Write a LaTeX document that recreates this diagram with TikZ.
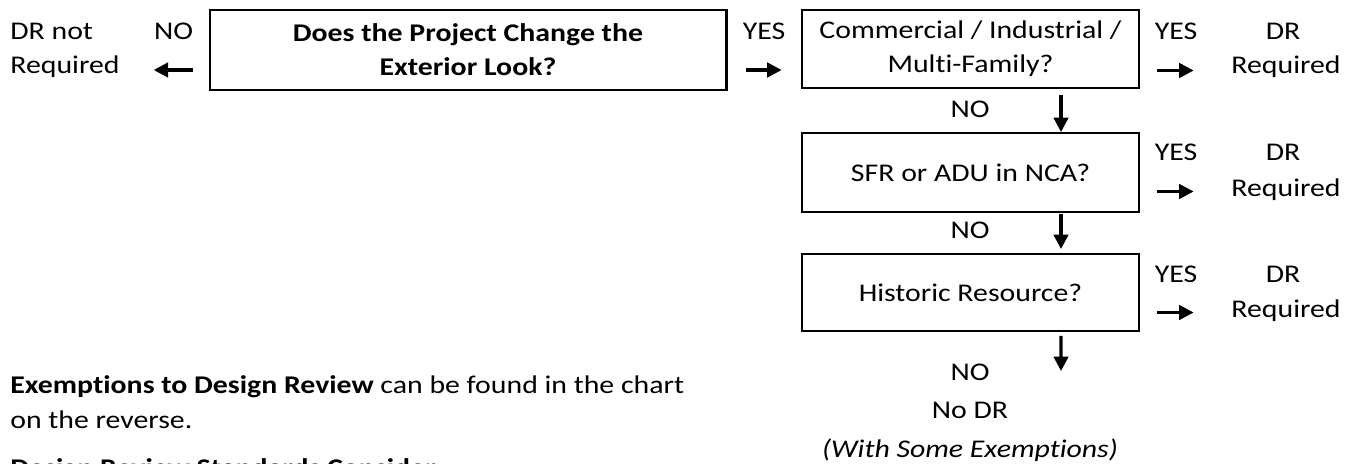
\documentclass[tikz,border=0pt]{standalone}
\usepackage{fontspec}
\setmainfont{Carlito}[FakeStretch=1.17, Ligatures=NoCommon]
\usetikzlibrary{arrows.meta}

\begin{document}
\begin{tikzpicture}[
		every node/.style={inner sep=0pt, anchor=base, font=\fontsize{14.5}{19.3}\selectfont},
		box/.style={draw, line width=1.1pt, minimum width=6.74cm, align=center, anchor=center},
		arr/.style={-{Triangle[length=0.29cm,width=0.29cm]}, line width=1.8pt}
	]
		\clip (0,0) rectangle (27.08,9.26);

		% question boxes
		\node[box, line width=1.7pt, minimum width=10.32cm, minimum height=1.6cm,
			font=\fontsize{14.5}{19.3}\selectfont\bfseries] (look) at (9.36,8.26) {Does the Project Change the\\Exterior Look?};
		\node[box, minimum height=1.56cm] (use) at (19.41,8.28) {Commercial / Industrial /\\Multi-Family?};
		\node[box, minimum height=1.58cm] (sfr) at (19.41,5.81) {SFR or ADU in NCA?};
		\node[box, minimum height=1.54cm] (hist) at (19.41,3.41) {Historic Resource?};

		% left answer
		\node[anchor=base west] (notreq) at (0.20,8.46) {DR not};
		\node[anchor=base west] (notreqb) at (0.20,7.78) {Required};
		\node (no0) at (3.47,8.46) {NO};
		\draw[arr] ([yshift=-0.6cm]no0.base east) -- ([yshift=-0.6cm]no0.base west);

		\node (yes0) at (15.28,8.46) {YES};
		\draw[arr] ([xshift=0.08cm,yshift=-0.6cm]yes0.base west) -- ([xshift=-0.08cm,yshift=-0.6cm]yes0.base east);

		% right answers
		\node (yes1) at (23.52,8.46) {YES};
		\node (dr1) at (25.66,8.46) {DR};
		\node (req1) at (25.72,7.78) {Required};
		\draw[arr] ([xshift=0.06cm,yshift=-0.61cm]yes1.base west) -- ([xshift=-0.08cm,yshift=-0.61cm]yes1.base east);

		\node (yes2) at (23.52,6.04) {YES};
		\node (dr2) at (25.66,6.04) {DR};
		\node (req2) at (25.72,5.34) {Required};
		\draw[arr] ([xshift=0.06cm,yshift=-0.61cm]yes2.base west) -- ([xshift=-0.08cm,yshift=-0.61cm]yes2.base east);

		\node (yes3) at (23.52,3.62) {YES};
		\node (dr3) at (25.66,3.62) {DR};
		\node (req3) at (25.72,2.92) {Required};
		\draw[arr] ([xshift=0.06cm,yshift=-0.61cm]yes3.base west) -- ([xshift=-0.08cm,yshift=-0.61cm]yes3.base east);

		% down the chain
		\node (no1) at (19.40,6.90) {NO};
		\node (no2) at (19.40,4.50) {NO};
		\node (no3) at (19.40,1.66) {NO};
		\node (nodr) at (19.40,0.90) {No DR};
		\node (exempt) at (19.40,0.12) {\itshape (With Some Exemptions)};
		\coordinate (noend) at (21.22,1.84);

		\draw[arr] ([xshift=1.81cm,yshift=-0.12cm]use.south) -- ([xshift=1.81cm]sfr.north);
		\draw[arr] ([xshift=1.81cm,yshift=-0.02cm]sfr.south) -- ([xshift=1.81cm,yshift=0.08cm]hist.north);
		\draw[arr] ([xshift=1.81cm,yshift=-0.08cm]hist.south) -- (noend);

		% notes
		\node[anchor=base west] (note1) at (0.20,1.40) {\textbf{Exemptions to Design Review} can be found in the chart};
		\node[anchor=base west] (note2) at (0.20,0.70) {on the reverse.};
		\node[anchor=base west] (note3) at (0.20,-0.26) {\bfseries Design Review Standards Consider};
	\end{tikzpicture}
\end{document}
